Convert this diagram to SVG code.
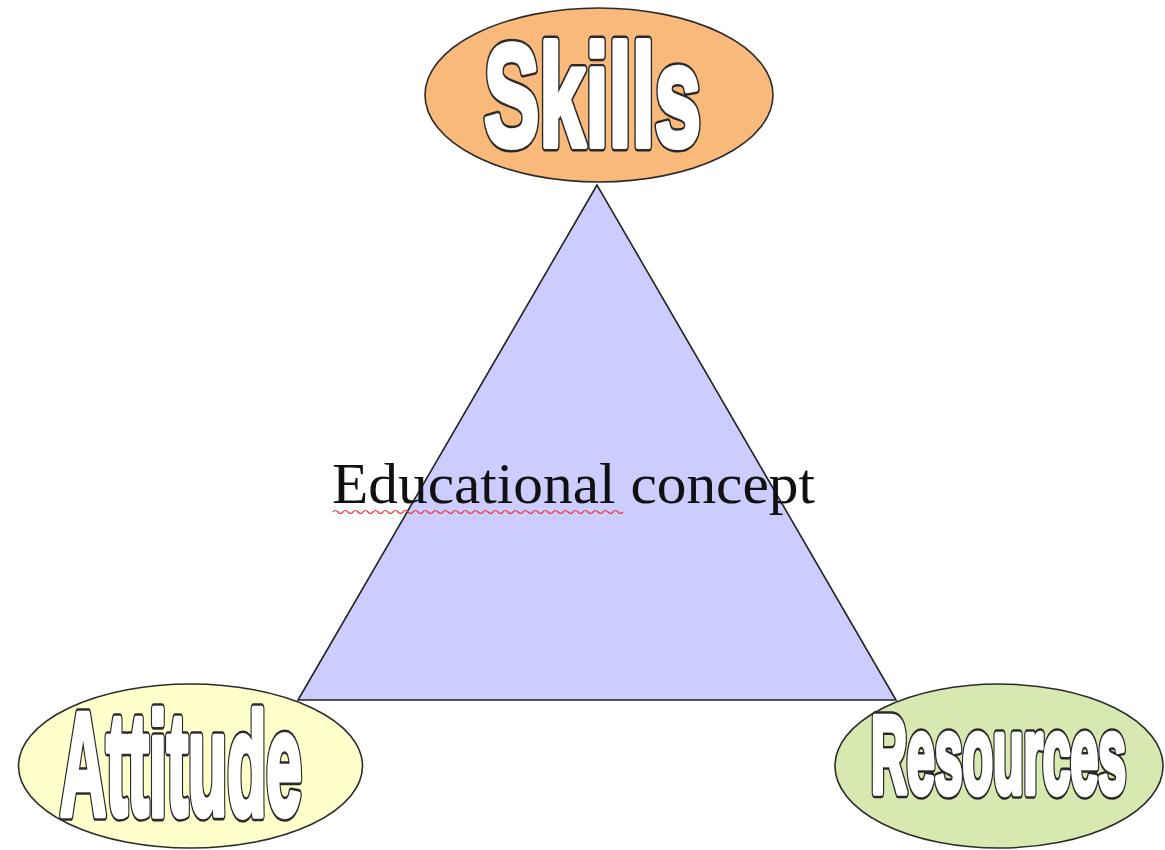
<svg xmlns="http://www.w3.org/2000/svg" width="1165" height="850" viewBox="0 0 1165 850">
<style>
.ell{stroke:#2b2b2b;stroke-width:1.6}
.big{font-family:"Liberation Sans",Arial,sans-serif;font-weight:bold}
.out{fill:#2a2a2a;stroke:#2a2a2a;stroke-width:9;stroke-linejoin:round;vector-effect:non-scaling-stroke}
.inn{fill:#ffffff;stroke:#ffffff;stroke-width:5;stroke-linejoin:round;vector-effect:non-scaling-stroke}
.cap{font-family:"Liberation Serif","Times New Roman",serif;fill:#111;font-size:58px}
</style>
<rect width="1165" height="850" fill="#ffffff"/>
<g id="connectors"></g>
<g id="triangle">
<polygon points="597,185 298,700 896,700" fill="#ccccff" stroke="#222" stroke-width="1.6"/>
<text class="cap" x="332" y="503" textLength="483" lengthAdjust="spacingAndGlyphs">Educational concept</text>
<path d="M333,512 q2.5,-3 5,0 t5,0 t5,0 t5,0 t5,0 t5,0 t5,0 t5,0 t5,0 t5,0 t5,0 t5,0 t5,0 t5,0 t5,0 t5,0 t5,0 t5,0 t5,0 t5,0 t5,0 t5,0 t5,0 t5,0 t5,0 t5,0 t5,0 t5,0 t5,0 t5,0 t5,0 t5,0 t5,0 t5,0 t5,0 t5,0 t5,0 t5,0 t5,0 t5,0 t5,0 t5,0 t5,0 t5,0 t5,0 t5,0 t5,0 t5,0 t5,0 t5,0 t5,0 t5,0 t5,0 t5,0 t5,0 t5,0 t5,0 t5,0" fill="none" stroke="#e83030" stroke-width="1.2"/>
</g>
<g id="skills">
<ellipse class="ell" cx="599" cy="95" rx="174" ry="87" fill="#f9b97b"/>
<g transform="translate(484,146) scale(0.5726,1)">
<text class="big out" x="0" y="0" font-size="145">Skills</text>
<text class="big inn" x="0" y="0" font-size="145">Skills</text>
</g>
</g>
<g id="attitude">
<ellipse class="ell" cx="190.5" cy="766" rx="172" ry="82" fill="#ffffcc"/>
<g transform="translate(60,815) scale(0.4389,1)">
<text class="big out" x="0" y="0" font-size="146">Attitude</text>
<text class="big inn" x="0" y="0" font-size="146">Attitude</text>
</g>
</g>
<g id="resources">
<ellipse class="ell" cx="999" cy="766" rx="164" ry="82" fill="#d7e8b0"/>
<g transform="translate(871,793) scale(0.4576,1)">
<text class="big out" x="0" y="0" font-size="109">Resources</text>
<text class="big inn" x="0" y="0" font-size="109">Resources</text>
</g>
</g>
</svg>
